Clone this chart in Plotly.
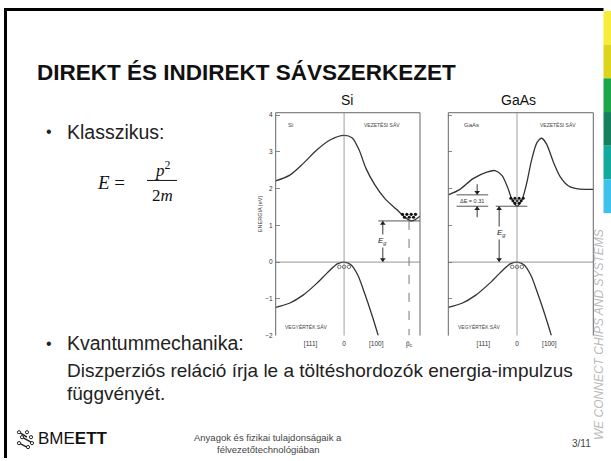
import plotly.graph_objects as go

W, H = 611, 461

# ---------------- data ----------------
energy_ticks = [-2, -1, 0, 1, 2, 3, 4]
si_k_ticks = [-0.49, 0.0, 0.47, 0.95]
si_k_text = ["[111]", "0", "[100]", "p̄<sub>c</sub>"]
gaas_k_ticks = [-0.49, 0.0, 0.47]
gaas_k_text = ["[111]", "0", "[100]"]

si_cb_k = [-1.0, -0.8, -0.6, -0.4, -0.2, 0.0, 0.12, 0.22, 0.32, 0.45, 0.6, 0.77, 0.89, 0.99, 1.11]
si_cb_e = [2.21, 2.36, 2.68, 3.05, 3.33, 3.45, 3.38, 3.05, 2.55, 2.10, 1.72, 1.43, 1.22, 1.12, 1.25]

gaas_cb_k = [-1.0, -0.83, -0.64, -0.44, -0.32, -0.22, -0.14, -0.08, 0.0, 0.07, 0.14, 0.21, 0.29,
             0.36, 0.43, 0.53, 0.63, 0.75, 0.89, 1.11]
gaas_cb_e = [1.83, 1.98, 2.27, 2.45, 2.49, 2.36, 2.05, 1.74, 1.52, 1.69, 2.14, 2.76, 3.25,
             3.37, 3.21, 2.72, 2.32, 2.07, 1.99, 1.98]

vb_k = [-1.0, -0.8, -0.6, -0.4, -0.25, -0.1, 0.0, 0.1, 0.2, 0.3, 0.4, 0.5]
si_vb_e = [-1.23, -1.12, -0.90, -0.58, -0.30, -0.05, 0.0, -0.07, -0.35, -0.85, -1.40, -2.0]
gaas_vb_e = [-1.23, -1.12, -0.90, -0.58, -0.30, -0.05, 0.0, -0.07, -0.35, -0.85, -1.40, -2.0]

si_ec = 1.12
gaas_ec = 1.52
gaas_l_valley = 1.83
si_pc = 0.95

si_elec_k = [0.854, 0.918, 0.981, 1.044, 0.883, 0.952, 1.015]
si_elec_e = [1.30, 1.30, 1.30, 1.30, 1.22, 1.22, 1.22]
gaas_elec_k = [-0.09, -0.03, 0.03, 0.09, -0.06, 0.0, 0.06, -0.03, 0.03]
gaas_elec_e = [1.74, 1.74, 1.74, 1.74, 1.67, 1.67, 1.67, 1.60, 1.60]
hole_k = [-0.07, 0.0, 0.07]
hole_e = [-0.13, -0.13, -0.13]

bar_colors = ["#F7EC3A", "#DCD51C", "#1DA64A", "#15805E", "#13AA9E", "#3CC2EC"]


def X(px):
    return px / W


def Y(py):
    return 1 - py / H


LINE = "#333333"
FIGF = "Liberation Sans, Arial, sans-serif"
SLIDEF = "Liberation Sans, Arial, sans-serif"
SERIF = "Liberation Serif, DejaVu Serif, serif"

fig = go.Figure()

# --- curves ---
for xa, ya, cbk, cbe, vbe in [("x", "y", si_cb_k, si_cb_e, si_vb_e),
                               ("x2", "y2", gaas_cb_k, gaas_cb_e, gaas_vb_e)]:
    fig.add_trace(go.Scatter(x=cbk, y=cbe, mode="lines", xaxis=xa, yaxis=ya,
                             line=dict(color=LINE, width=1.3, shape="spline", smoothing=0.8),
                             showlegend=False, hoverinfo="skip"))
    fig.add_trace(go.Scatter(x=vb_k, y=vbe, mode="lines", xaxis=xa, yaxis=ya,
                             line=dict(color=LINE, width=1.3, shape="spline", smoothing=0.8),
                             showlegend=False, hoverinfo="skip"))
    fig.add_trace(go.Scatter(x=hole_k, y=hole_e, mode="markers", xaxis=xa, yaxis=ya,
                             marker=dict(symbol="circle-open", size=3.5, color="#555", line=dict(width=0.8)),
                             showlegend=False, hoverinfo="skip"))

fig.add_trace(go.Scatter(x=si_elec_k, y=si_elec_e, mode="markers", xaxis="x", yaxis="y",
                         marker=dict(size=3.2, color="#111"), showlegend=False, hoverinfo="skip"))
fig.add_trace(go.Scatter(x=gaas_elec_k, y=gaas_elec_e, mode="markers", xaxis="x2", yaxis="y2",
                         marker=dict(size=3.0, color="#111"), showlegend=False, hoverinfo="skip"))


# arrows (line + triangle heads)
HEAD = 0.07


def arrow(xa, ya, x, y_from, y_to, both=False):
    fig.add_trace(go.Scatter(x=[x, x], y=[y_from, y_to], mode="lines", xaxis=xa, yaxis=ya,
                             line=dict(color="#222", width=0.9), showlegend=False, hoverinfo="skip"))
    up = y_to > y_from
    hx, hy, hs = [x], [y_to - HEAD if up else y_to + HEAD], ["triangle-up" if up else "triangle-down"]
    if both:
        hx.append(x)
        hy.append(y_from + HEAD if up else y_from - HEAD)
        hs.append("triangle-down" if up else "triangle-up")
    fig.add_trace(go.Scatter(x=hx, y=hy, mode="markers", xaxis=xa, yaxis=ya,
                             marker=dict(symbol=hs, size=5, color="#222"),
                             showlegend=False, hoverinfo="skip"))


arrow("x", "y", 0.566, 0.0, si_ec, both=True)
arrow("x2", "y2", -0.26, 0.0, gaas_ec, both=True)
arrow("x2", "y2", -0.58, 2.12, gaas_l_valley)
arrow("x2", "y2", -0.58, 1.22, gaas_ec)

yr = [-2, 4.065]
xr = [-1, 1.11]
ydom = [Y(337.5), Y(112.7)]
ax_common = dict(showgrid=False, zeroline=False, showline=False, fixedrange=True)

fig.update_layout(
    width=W, height=H, margin=dict(l=0, r=0, t=0, b=0),
    paper_bgcolor="white", plot_bgcolor="rgba(0,0,0,0)",
    xaxis=dict(domain=[X(275.7), X(420)], range=xr, tickvals=si_k_ticks, ticktext=si_k_text,
               ticks="", tickfont=dict(size=6.5, color="#333", family=FIGF), ticklabelstandoff=3,
               **ax_common),
    yaxis=dict(domain=ydom, range=yr, tickvals=energy_ticks, ticks="inside", ticklen=4,
               tickcolor="#888", tickwidth=1, tickfont=dict(size=6.5, color="#333", family=FIGF),
               ticklabelstandoff=2, **ax_common),
    xaxis2=dict(domain=[X(448.3), X(593.3)], range=xr, tickvals=gaas_k_ticks, ticktext=gaas_k_text,
                ticks="", tickfont=dict(size=6.5, color="#333", family=FIGF), ticklabelstandoff=3,
                anchor="y2", **ax_common),
    yaxis2=dict(domain=ydom, range=yr, tickvals=energy_ticks, ticks="inside", ticklen=4,
                tickcolor="#888", showticklabels=False, anchor="x2", **ax_common),
)

shapes = []
ann = []


def txt(x, y, text, size, color="#222", family=SLIDEF, xanchor="center", ref="paper", **kw):
    if ref == "paper":
        d = dict(xref="paper", yref="paper", x=X(x), y=Y(y))
    else:
        d = dict(xref=ref[0], yref=ref[1], x=x, y=y)
    d.update(text=text, showarrow=False, xanchor=xanchor, yanchor="middle",
             font=dict(size=size, color=color, family=family))
    d.update(kw)
    ann.append(d)


# frames and reference lines for both plots
for xa, ya in [("x", "y"), ("x2", "y2")]:
    xd, yd = xa + " domain", ya + " domain"
    for (x0, y0, x1, y1) in [(0, 0, 0, 1), (0, 1, 1, 1), (1, 0, 1, 1)]:
        shapes.append(dict(type="line", xref=xd, yref=yd, x0=x0, y0=y0, x1=x1, y1=y1,
                           line=dict(color="#666", width=1)))
    shapes.append(dict(type="line", xref=xa, yref=yd, x0=0, x1=0, y0=0, y1=1,
                       line=dict(color="#888", width=0.8)))
    shapes.append(dict(type="line", xref=xd, yref=ya, x0=0, x1=1, y0=0, y1=0,
                       line=dict(color="#777", width=0.8)))

# Si details
shapes.append(dict(type="line", xref="x", yref="y", x0=0.50, x1=1.11, y0=si_ec, y1=si_ec,
                   line=dict(color="#444", width=0.9)))
shapes.append(dict(type="line", xref="x", yref="y", x0=si_pc, x1=si_pc, y0=si_ec, y1=-2,
                   line=dict(color="#777", width=1, dash="dash")))
txt(0.56, 0.58, "<i>E<sub>g</sub></i>", 8, ref=("x", "y"), bgcolor="white")
txt(-0.79, 3.72, "Si", 6, "#444", FIGF, ref=("x", "y"))
txt(0.55, 3.74, "VEZETÉSI SÁV", 5, "#444", FIGF, ref=("x", "y"))
txt(-0.55, -1.78, "VEGYÉRTÉK SÁV", 5, "#444", FIGF, ref=("x", "y"))

# GaAs details
shapes.append(dict(type="line", xref="x2", yref="y2", x0=-0.31, x1=0.15, y0=gaas_ec, y1=gaas_ec,
                   line=dict(color="#444", width=0.9)))
shapes.append(dict(type="line", xref="x2", yref="y2", x0=-0.88, x1=-0.42, y0=gaas_l_valley,
                   y1=gaas_l_valley, line=dict(color="#444", width=0.9)))
shapes.append(dict(type="line", xref="x2", yref="y2", x0=-0.88, x1=-0.42, y0=gaas_ec,
                   y1=gaas_ec, line=dict(color="#444", width=0.9)))
txt(-0.65, 1.675, "ΔE = 0.31", 5.5, "#333", FIGF, ref=("x2", "y2"))
txt(-0.22, 0.78, "<i>E<sub>g</sub></i>", 8, ref=("x2", "y2"), bgcolor="white")
txt(-0.66, 3.72, "GaAs", 6, "#444", FIGF, ref=("x2", "y2"))
txt(0.6, 3.74, "VEZETÉSI SÁV", 5, "#444", FIGF, ref=("x2", "y2"))
txt(-0.55, -1.78, "VEGYÉRTÉK SÁV", 5, "#444", FIGF, ref=("x2", "y2"))

# energy axis title
txt(260, 215, "ENERGIA (eV)", 5.5, "#444", FIGF, textangle=-90)

# plot titles
txt(347, 100, "Si", 14, "#111")
txt(518, 100, "GaAs", 14, "#111")

# ---------------- slide decoration ----------------
shapes.append(dict(type="line", xref="paper", yref="paper", x0=X(4), x1=X(603.5), y0=Y(8.5), y1=Y(8.5),
                   line=dict(color="black", width=3)))
shapes.append(dict(type="line", xref="paper", yref="paper", x0=X(5.5), x1=X(5.5), y0=Y(7), y1=0,
                   line=dict(color="black", width=3)))
seg_top = 10
seg_h = 34
for i, c in enumerate(bar_colors):
    shapes.append(dict(type="rect", xref="paper", yref="paper", x0=X(603.5), x1=1,
                       y0=Y(seg_top + (i + 1) * seg_h), y1=Y(seg_top + i * seg_h),
                       fillcolor=c, line=dict(width=0)))
txt(599, 337, "<i>WE CONNECT CHIPS AND SYSTEMS</i>", 12, "#BBBBBB", textangle=-90)

txt(35, 72, "<b>DIREKT ÉS INDIREKT SÁVSZERKEZET</b>", 22.5, "#111", xanchor="left")

txt(44, 132, "•", 16, xanchor="left")
txt(65, 132, "Klasszikus:", 19.5, xanchor="left")
txt(44, 345, "•", 16, xanchor="left")
txt(65, 345, "Kvantummechanika:", 19.5, xanchor="left")
txt(65, 373, "Diszperziós reláció írja le a töltéshordozók energia-impulzus", 19, xanchor="left")
txt(65, 396, "függvényét.", 19, xanchor="left")

# formula E = p^2 / 2m
txt(127, 183, "<i>E</i> =", 19, "#111", SERIF, xanchor="right")
shapes.append(dict(type="line", xref="paper", yref="paper", x0=X(147), x1=X(177), y0=Y(181), y1=Y(181),
                   line=dict(color="#111", width=1)))
txt(163, 169, "<i>p</i><sup>2</sup>", 17, "#111", SERIF)
txt(162, 196, "2<i>m</i>", 17, "#111", SERIF)

# footer
txt(36, 441, "BME<b>ETT</b>", 17, "#111", xanchor="left")
logo_pts = [(19, 435, 27, 440), (22, 440, 31, 445), (19, 446, 27, 450)]
for (a, b, c, d) in logo_pts:
    shapes.append(dict(type="line", xref="paper", yref="paper", x0=X(a), y0=Y(b), x1=X(c), y1=Y(d),
                       line=dict(color="#222", width=1.5)))
for (cx, cy) in [(19, 435), (31, 440), (22, 440), (32, 446), (19, 446), (28, 450), (27, 435)]:
    shapes.append(dict(type="circle", xref="paper", yref="paper", x0=X(cx - 1.6), x1=X(cx + 1.6),
                       y0=Y(cy + 1.6), y1=Y(cy - 1.6), line=dict(color="#222", width=1),
                       fillcolor="white"))
txt(268, 440, "Anyagok és fizikai tulajdonságaik a", 9.5, "#444")
txt(268, 452, "félvezetőtechnológiában", 9.5, "#444")
txt(581, 446, "3/11", 10, "#444")

fig.update_layout(shapes=shapes, annotations=ann)
fig.write_html("out.html", config={"displayModeBar": False, "staticPlot": True},
               post_script="document.body.style.margin='0px';")
